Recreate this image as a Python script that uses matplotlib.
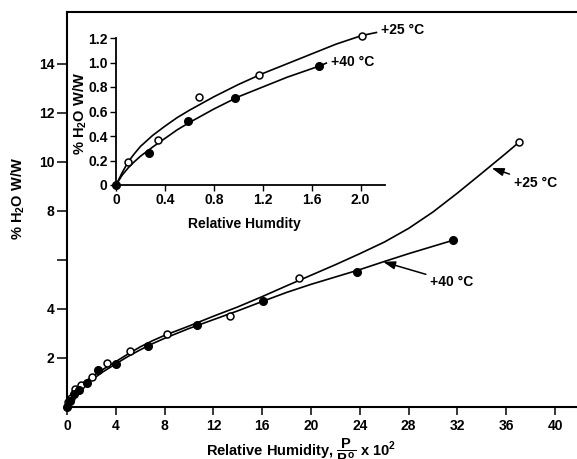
import matplotlib
matplotlib.use("Agg")
import matplotlib.pyplot as plt

plt.rcParams['font.family'] = ['Liberation Sans', 'DejaVu Sans']
plt.rcParams['font.weight'] = 'bold'
plt.rcParams['mathtext.fontset'] = 'custom'
plt.rcParams['mathtext.rm'] = 'Liberation Sans:bold'
plt.rcParams['mathtext.bf'] = 'Liberation Sans:bold'
plt.rcParams['mathtext.it'] = 'Liberation Sans:bold'

# ---- main plot: full humidity range ----
rh_25 = [0.1, 0.34, 0.68, 1.17, 2.01, 3.3, 5.15, 8.2, 13.4, 19.0, 37.07]
w_25 = [0.19, 0.37, 0.72, 0.90, 1.22, 1.78, 2.29, 2.97, 3.69, 5.25, 10.8]
rh_40 = [0.0, 0.27, 0.59, 0.97, 1.66, 2.55, 4.0, 6.6, 10.68, 16.1, 23.8, 31.6]
w_40 = [0.0, 0.26, 0.52, 0.71, 0.97, 1.51, 1.75, 2.49, 3.35, 4.33, 5.5, 6.79]

# fitted curves as drawn by hand
fit25_x = [0, 0.1, 0.3, 0.6, 1, 1.5, 2, 3, 4, 5, 6, 7, 8, 10, 12, 14, 16, 18,
           20, 22, 24, 26, 28, 30, 32, 34, 36, 37.07]
fit25_y = [0, 0.2, 0.4, 0.62, 0.85, 1.05, 1.22, 1.55, 1.85, 2.16, 2.45, 2.7,
           2.92, 3.3, 3.7, 4.08, 4.5, 4.94, 5.37, 5.8, 6.25, 6.72, 7.28, 7.95,
           8.72, 9.53, 10.35, 10.8]
fit40_x = [0, 0.1, 0.3, 0.6, 1, 1.5, 2, 3, 4, 5, 6, 7, 8, 10, 12, 14, 16, 18,
           20, 22, 24, 26, 28, 30, 31.6]
fit40_y = [0, 0.14, 0.3, 0.5, 0.7, 0.92, 1.1, 1.45, 1.76, 2.06, 2.33, 2.58,
           2.8, 3.2, 3.56, 3.92, 4.3, 4.67, 5.0, 5.3, 5.6, 5.93, 6.25, 6.55,
           6.79]

x_ticks = [0, 4, 8, 12, 16, 20, 24, 28, 32, 36, 40]
y_ticks = [2, 4, 6, 8, 10, 12, 14]
y_ticklabels = ['2', '4', '', '8', '10', '12', '14']

# ---- inset: low humidity ----
in_rh_25 = [0.1, 0.34, 0.68, 1.17, 2.01]
in_w_25 = [0.19, 0.37, 0.72, 0.90, 1.22]
in_rh_40 = [0.0, 0.27, 0.59, 0.97, 1.66]
in_w_40 = [0.0, 0.26, 0.52, 0.71, 0.97]
in_fit25_x = [0, 0.05, 0.1, 0.15, 0.2, 0.3, 0.4, 0.5, 0.6, 0.8, 1.0, 1.2,
              1.4, 1.6, 1.8, 2.01, 2.13]
in_fit25_y = [0, 0.1, 0.19, 0.255, 0.315, 0.405, 0.48, 0.55, 0.61, 0.72,
              0.82, 0.91, 0.99, 1.07, 1.15, 1.22, 1.245]
in_fit40_x = [0, 0.05, 0.1, 0.15, 0.2, 0.3, 0.4, 0.5, 0.6, 0.8, 1.0, 1.2,
              1.4, 1.66, 1.72]
in_fit40_y = [0, 0.08, 0.14, 0.19, 0.235, 0.31, 0.38, 0.45, 0.51, 0.62,
              0.72, 0.80, 0.88, 0.97, 0.995]
in_x_ticks = [0, 0.4, 0.8, 1.2, 1.6, 2.0]
in_y_ticks = [0, 0.2, 0.4, 0.6, 0.8, 1.0, 1.2]

W, H = 577, 459
fig = plt.figure(figsize=(W / 100, H / 100), dpi=100)

ax = fig.add_axes([67 / W, (H - 407) / H, 510 / W, 395 / H])
ax.set_xlim(0, 41.8)
ax.set_ylim(0, 16.1)
ax.spines['right'].set_visible(False)
for s in ['left', 'bottom', 'top']:
    ax.spines[s].set_linewidth(1.5)
ax.set_xticks(x_ticks)
ax.set_yticks(y_ticks)
ax.set_yticklabels(y_ticklabels)
ax.tick_params(axis='y', direction='out', length=7, width=1.1, pad=2, labelsize=10)
ax.tick_params(axis='x', direction='out', length=6, width=1.1, pad=3, labelsize=10)

ax.plot(fit25_x, fit25_y, color='black', lw=1.2)
ax.plot(fit40_x, fit40_y, color='black', lw=1.2)
ax.plot(rh_25, w_25, 'o', ms=5, mfc='white', mec='black', mew=1.1, clip_on=False)
ax.plot(rh_40, w_40, 'o', ms=5.5, color='black', clip_on=False)

arrow = dict(arrowstyle='-|>,head_length=0.6,head_width=0.2', color='black', lw=1.1,
             mutation_scale=12, shrinkA=1, shrinkB=0)
ax.annotate('+25 °C', xy=(34.8, 9.74), xytext=(36.6, 9.14), ha='left', va='center',
            fontsize=10, fontweight='bold', arrowprops=arrow)
ax.annotate('+40 °C', xy=(25.9, 5.92), xytext=(29.75, 5.1), ha='left', va='center',
            fontsize=10, fontweight='bold', arrowprops=arrow)

fig.text(18 / W, 1 - 199 / H, '% H$_2$O W/W', rotation=90, ha='center', va='center',
         fontsize=10.5, fontweight='bold')
fig.text(301 / W, 1 - 455 / H, r'Relative Humidity, $\dfrac{P}{P^o}$ x 10$^2$',
         ha='center', va='baseline', fontsize=10.5, fontweight='bold')

# inset
ax2 = fig.add_axes([116 / W, (H - 185) / H, 269 / W, 147 / H])
ax2.set_xlim(0, 2.2)
ax2.set_ylim(0, 1.2)
ax2.spines['right'].set_visible(False)
ax2.spines['top'].set_visible(False)
ax2.spines['left'].set_linewidth(1.3)
ax2.spines['bottom'].set_linewidth(1.3)
ax2.set_xticks(in_x_ticks)
ax2.set_xticklabels(['0', '0.4', '0.8', '1.2', '1.6', '2.0'])
ax2.set_yticks(in_y_ticks)
ax2.set_yticklabels(['0', '0.2', '0.4', '0.6', '0.8', '1.0', '1.2'])
ax2.tick_params(axis='both', direction='out', length=4, width=1.0, pad=2, labelsize=10)

ax2.plot(in_fit25_x, in_fit25_y, color='black', lw=1.2, clip_on=False)
ax2.plot(in_fit40_x, in_fit40_y, color='black', lw=1.2, clip_on=False)
ax2.plot(in_rh_25, in_w_25, 'o', ms=5, mfc='white', mec='black', mew=1.1, clip_on=False)
ax2.plot(in_rh_40, in_w_40, 'o', ms=5.5, color='black', clip_on=False)
ax2.text(2.17, 1.265, '+25 °C', ha='left', va='center', fontsize=10, fontweight='bold')
ax2.text(1.755, 1.006, '+40 °C', ha='left', va='center', fontsize=10, fontweight='bold')

fig.text(80 / W, 1 - 114 / H, '% H$_2$O W/W', rotation=90, ha='center', va='center',
         fontsize=10.5, fontweight='bold')
fig.text(244 / W, 1 - 224 / H, 'Relative Humdity', ha='center', va='center',
         fontsize=10, fontweight='bold')

fig.savefig('out.png', dpi=100)
